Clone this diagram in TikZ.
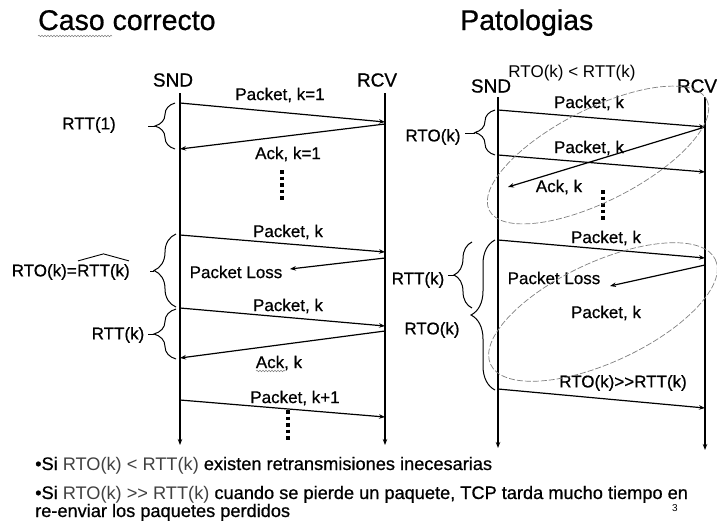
\documentclass[tikz,border=0pt]{standalone}
\usepackage{fontspec}
\setmainfont{Liberation Sans}
\newfontfamily\scanfont{Liberation Sans}[FakeBold=0.7]
\usetikzlibrary{arrows.meta,decorations.pathreplacing,decorations.pathmorphing,calc}
\tikzset{
  life/.style={line width=1.2pt, -{Stealth[length=6pt,width=4.5pt]}},
  msg/.style={line width=1.2pt, -{Stealth[length=6pt,width=4.5pt]}},
  lbl/.style={font=\scanfont\fontsize{17}{20}\selectfont, inner sep=0pt},
  hdr/.style={font=\scanfont\fontsize{19}{22}\selectfont, inner sep=0pt},
  ttl/.style={font=\scanfont\fontsize{28.5}{32}\selectfont, inner sep=0pt, anchor=base west},
  brc/.style={decorate, decoration={brace, amplitude=#1}, line width=1pt},
  brc/.default=18pt,
  tipline/.style={line width=1pt},
  vdots/.style={line width=3.5pt, dash pattern=on 3.5pt off 3pt},
  oval/.style={gray, line width=0.7pt, dash pattern=on 6pt off 2pt},
  wavy/.style={decorate, decoration={snake, amplitude=0.8pt, segment length=3pt}, gray, line width=0.5pt},
  body/.style={font=\scanfont\fontsize{18.2}{21}\selectfont, inner sep=0pt, anchor=base west},
}
\newcommand\lightpart[1]{{\rmfamily\color{black!75}#1}}
\begin{document}
\begin{tikzpicture}[x=1pt,y=-1pt]
\useasboundingbox (0,0) rectangle (717,525);

% ---------------- titles ----------------
\node[ttl] (t1) at (38,30) {Caso correcto};
\draw[wavy] (38,36) -- (112,36);
\node[ttl] (t2) at (460,30) {Patologias};

% ================= LEFT: correct case =================
\node[hdr] (snd1) at (173,80) {SND};
\node[hdr] (rcv1) at (377,80) {RCV};
\coordinate (ls0) at (180,93);  \coordinate (ls1) at (180,445);
\coordinate (lr0) at (385,93);  \coordinate (lr1) at (385,445);
\draw[life] (ls0) -- (ls1);
\draw[life] (lr0) -- (lr1);

\coordinate (la1) at (180,103); \coordinate (lb1) at (385,122);
\coordinate (lb2) at (385,124); \coordinate (la2) at (180,149);
\coordinate (la3) at (180,235); \coordinate (lb3) at (385,252);
\coordinate (lb4) at (385,258); \coordinate (lx4) at (290,269);
\coordinate (la5) at (180,308); \coordinate (lb5) at (385,326);
\coordinate (lb6) at (385,331); \coordinate (la6) at (180,358);
\coordinate (la7) at (180,400); \coordinate (lb7) at (385,417);

\draw[msg] (la1) -- (lb1);
\draw[msg] (lb2) -- (la2);
\draw[msg] (la3) -- (lb3);
\draw[msg] (lb4) -- (lx4);
\draw[msg] (la5) -- (lb5);
\draw[msg] (lb6) -- (la6);
\draw[msg] (la7) -- (lb7);

\node[lbl] (lp1) at (280,95) {Packet, k=1};
\node[lbl] (lk1) at (288,154) {Ack, k=1};
\node[lbl] (lp2) at (288,232) {Packet, k};
\node[lbl] (lloss) at (236,272) {Packet Loss};
\node[lbl] (lp3) at (288,306) {Packet, k};
\node[lbl] (lk2) at (279,363) {Ack, k};
\draw[wavy] (256,371) -- (285,371);
\node[lbl] (lp4) at (295,398) {Packet, k+1};

\coordinate (ld1a) at (282,170); \coordinate (ld1b) at (282,202);
\draw[vdots] (ld1a) -- (ld1b);
\coordinate (ld2a) at (288,410); \coordinate (ld2b) at (288,441);
\draw[vdots] (ld2a) -- (ld2b);

% braces left
\draw[brc=20pt] (175,149) -- (175,103);
\draw[tipline] (155,126) -- (148,126);
\node[lbl] (rtt1) at (89,125) {RTT(1)};

\draw[brc=22pt] (176,307) -- (176,234);
\draw[tipline] (154,271) -- (150,271);
\node[lbl, anchor=east] (rtoeq) at (77,272) {RTO(k)=};
\node[lbl, anchor=west] (rtth) at (rtoeq.east) {RTT(k)};
\draw[line width=0.9pt] ($(rtth.north west)+(1,-3)$) -- ($(rtth.north)+(0,-10)$) -- ($(rtth.north east)+(-1,-3)$);

\draw[brc=22pt] (176,359) -- (176,309);
\draw[tipline] (154,334) -- (148,334);
\node[lbl] (rttk1) at (118,335) {RTT(k)};

% ================= RIGHT: pathologies =================
\node[hdr] (snd2) at (491,86) {SND};
\node[hdr] (rcv2) at (697,86) {RCV};
\node[lbl, font=\rmfamily\fontsize{17}{20}\selectfont] (cond) at (572,73) {RTO(k) < RTT(k)};
\coordinate (rs0) at (498,97);  \coordinate (rs1) at (498,448);
\coordinate (rr0) at (705,97);  \coordinate (rr1) at (705,450);
\draw[life] (rs0) -- (rs1);
\draw[life] (rr0) -- (rr1);

\coordinate (ra1) at (498,110); \coordinate (rb1) at (705,127);
\coordinate (ra2) at (498,155); \coordinate (rb2) at (705,172);
\coordinate (rx3) at (508,187);
\coordinate (ra4) at (498,240); \coordinate (rb4) at (705,258);
\coordinate (rb5) at (705,265); \coordinate (rx5) at (610,286);
\coordinate (ra6) at (498,389); \coordinate (rb6) at (705,408);

\draw[msg] (ra1) -- (rb1);
\draw[msg] (ra2) -- (rb2);
\draw[msg] (rb1) -- (rx3);
\draw[msg] (ra4) -- (rb4);
\draw[msg] (rb5) -- (rx5);
\draw[msg] (ra6) -- (rb6);

\node[lbl] (rp1) at (589,103) {Packet, k};
\node[lbl] (rp2) at (589,148) {Packet, k};
\node[lbl] (rk1) at (559,187) {Ack, k};
\node[lbl] (rp3) at (606,238) {Packet, k};
\node[lbl] (rloss) at (554,278) {Packet Loss};
\node[lbl] (rp4) at (606,313) {Packet, k};
\node[lbl] (rgg) at (623,383) {RTO(k)>{}>RTT(k)};

\coordinate (rd1a) at (603,190); \coordinate (rd1b) at (603,220);
\draw[vdots] (rd1a) -- (rd1b);

% ellipses
\draw[oval, rotate around={27:(598,155)}] (598,155) ellipse [x radius=122, y radius=46];
\draw[oval, rotate around={25:(603,312)}] (603,312) ellipse [x radius=124, y radius=50];

% braces right
\draw[brc=20pt] (495,155) -- (495,110);
\draw[tipline] (475,133) -- (465,133);
\node[lbl] (rto1) at (433,137) {RTO(k)};

\draw[brc=18pt] (472,308) -- (472,242);
\draw[tipline] (454,275) -- (448,275);
\node[lbl] (rttk2) at (418,280) {RTT(k)};

\draw[brc=24pt] (495,390) -- (495,240);
\node[lbl] (rto2) at (432,330) {RTO(k)};

% ================= bottom text =================
\node[body] (bl1) at (35,470) {•Si \lightpart{RTO(k) < RTT(k)} existen retransmisiones inecesarias};
\node[body] (bl2) at (35,499) {•Si \lightpart{RTO(k) >{}> RTT(k)} cuando se pierde un paquete, TCP tarda mucho tiempo en};
\node[body] (bl3) at (35,517) {re-enviar los paquetes perdidos};
\node[font=\fontsize{10}{10}\selectfont, inner sep=0pt] (pg) at (675,508) {3};
\end{tikzpicture}
\end{document}
